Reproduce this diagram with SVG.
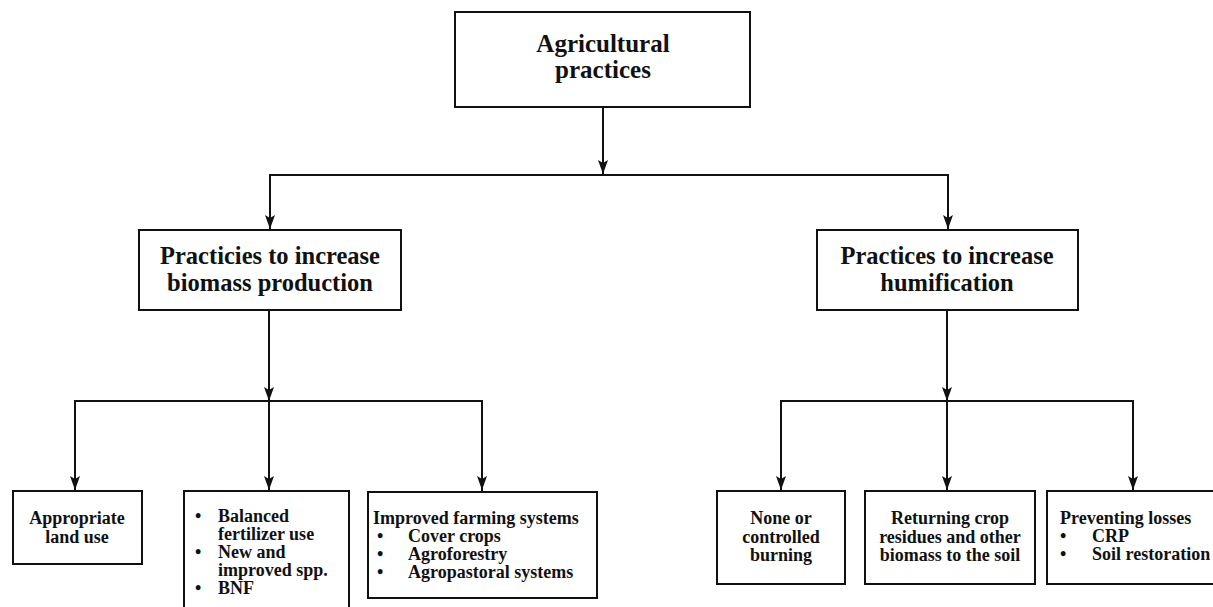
<svg xmlns="http://www.w3.org/2000/svg" width="1213" height="607" viewBox="0 0 1213 607">
<defs>
<style>
.box{fill:#fff;stroke:#111;stroke-width:2}
text{font-family:'Liberation Serif','Times New Roman',Times,serif;font-weight:bold;fill:#111}
.big{font-size:25px}
.mid{font-size:24.5px}
.sm{font-size:18px}
.c{text-anchor:middle}
.ln{fill:none;stroke:#111;stroke-width:2}
</style>
<marker id="ah" markerUnits="userSpaceOnUse" markerWidth="10" markerHeight="14" viewBox="0 0 10 14" refX="5" refY="14" orient="0">
<path d="M0,0 L5,3 L10,0 L5,14 Z" fill="#111"/>
</marker>
</defs>
<rect width="1213" height="607" fill="#fff"/>
<g id="connectors">
<line class="ln" x1="603" y1="107" x2="603" y2="174" marker-end="url(#ah)"/>
<polyline class="ln" points="270,229 270,175 948,175 948,229"/>
<line class="ln" x1="270" y1="175" x2="270" y2="229" marker-end="url(#ah)"/>
<line class="ln" x1="948" y1="175" x2="948" y2="229" marker-end="url(#ah)"/>
<line class="ln" x1="269" y1="310" x2="269" y2="401" marker-end="url(#ah)"/>
<polyline class="ln" points="75,491 75,401 482,401 482,491"/>
<line class="ln" x1="75" y1="401" x2="75" y2="490" marker-end="url(#ah)"/>
<line class="ln" x1="269" y1="401" x2="269" y2="490" marker-end="url(#ah)"/>
<line class="ln" x1="482" y1="401" x2="482" y2="490" marker-end="url(#ah)"/>
<line class="ln" x1="947" y1="310" x2="947" y2="401" marker-end="url(#ah)"/>
<polyline class="ln" points="781,491 781,401 1133,401 1133,491"/>
<line class="ln" x1="781" y1="401" x2="781" y2="490" marker-end="url(#ah)"/>
<line class="ln" x1="947" y1="401" x2="947" y2="490" marker-end="url(#ah)"/>
<line class="ln" x1="1133" y1="401" x2="1133" y2="490" marker-end="url(#ah)"/>
</g>
<g id="n-agri">
<rect class="box" x="455" y="12" width="295" height="95"/>
<text class="big c" x="603" y="52">Agricultural</text>
<text class="big c" x="603" y="78">practices</text>
</g>
<g id="n-biomass">
<rect class="box" x="139" y="230" width="262" height="80"/>
<text class="mid c" x="270" y="264">Practicies to increase</text>
<text class="mid c" x="270" y="291">biomass production</text>
</g>
<g id="n-humif">
<rect class="box" x="817" y="230" width="261" height="80"/>
<text class="mid c" x="947" y="264">Practices to increase</text>
<text class="mid c" x="947" y="291">humification</text>
</g>
<g id="n-land">
<rect class="box" x="13" y="491" width="129" height="73"/>
<text class="sm c" x="77" y="524">Appropriate</text>
<text class="sm c" x="77" y="543">land use</text>
</g>
<g id="n-fert">
<rect class="box" x="184" y="491" width="165" height="125"/>
<text class="sm" y="522"><tspan x="195">•</tspan><tspan x="218">Balanced</tspan></text>
<text class="sm" x="218" y="540">fertilizer use</text>
<text class="sm" y="558"><tspan x="195">•</tspan><tspan x="218">New and</tspan></text>
<text class="sm" x="218" y="576">improved spp.</text>
<text class="sm" y="594"><tspan x="195">•</tspan><tspan x="218">BNF</tspan></text>
</g>
<g id="n-farming">
<rect class="box" x="368" y="492" width="229" height="106"/>
<text class="sm" x="373" y="524">Improved farming systems</text>
<text class="sm" y="542"><tspan x="377">•</tspan><tspan x="408">Cover crops</tspan></text>
<text class="sm" y="560"><tspan x="377">•</tspan><tspan x="408">Agroforestry</tspan></text>
<text class="sm" y="578"><tspan x="377">•</tspan><tspan x="408">Agropastoral systems</tspan></text>
</g>
<g id="n-burning">
<rect class="box" x="717" y="491" width="128" height="93"/>
<text class="sm c" x="781" y="524">None or</text>
<text class="sm c" x="781" y="543">controlled</text>
<text class="sm c" x="781" y="561">burning</text>
</g>
<g id="n-returning">
<rect class="box" x="865" y="491" width="170" height="93"/>
<text class="sm c" x="950" y="524">Returning crop</text>
<text class="sm c" x="950" y="543">residues and other</text>
<text class="sm c" x="950" y="561">biomass to the soil</text>
</g>
<g id="n-losses">
<rect class="box" x="1047" y="491" width="170" height="93"/>
<text class="sm" x="1060" y="524">Preventing losses</text>
<text class="sm" y="542"><tspan x="1060">•</tspan><tspan x="1092">CRP</tspan></text>
<text class="sm" y="560"><tspan x="1060">•</tspan><tspan x="1092">Soil restoration</tspan></text>
</g>
</svg>
